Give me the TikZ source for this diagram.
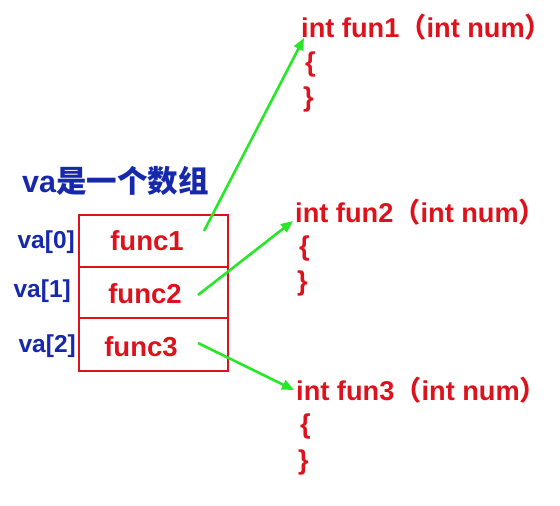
\documentclass[tikz,border=0pt]{standalone}
\usepackage{fontspec}
\setmainfont{Liberation Sans}
\newfontfamily\cjk{Noto Sans CJK SC}
\usetikzlibrary{arrows.meta}
\definecolor{fred}{RGB}{222,18,28}
\definecolor{fblue}{RGB}{22,40,172}
\definecolor{fgreen}{RGB}{40,230,40}
\newcommand{\lpar}{{\cjk （}}
\newcommand{\rpar}{{\cjk ）}}
\tikzset{
  cell/.style={draw=fred, line width=2pt, minimum width=149pt, inner sep=0pt},
  celltxt/.style={text=fred, font=\fontsize{27.5}{30}\selectfont\bfseries, inner sep=0pt},
  idx/.style={text=fblue, font=\fontsize{24.5}{26}\selectfont\bfseries, inner sep=0pt},
  code/.style={text=fred, font=\fontsize{27.2}{30}\selectfont\bfseries, inner sep=0pt, anchor=west},
  link/.style={draw=fgreen, line width=2.6pt, -{Triangle[length=12pt,width=10pt]}}
}
\begin{document}
\begin{tikzpicture}[x=1pt,y=-1pt]
\useasboundingbox[fill=white] (0,0) rectangle (560,506);
% array cells
\node[cell, minimum height=52pt, anchor=north west] (c0) at (78,214) {};
\node[cell, minimum height=51pt, anchor=north west] (c1) at (78,266) {};
\node[cell, minimum height=53pt, anchor=north west] (c2) at (78,317) {};
\node[celltxt] (t0) at (147,241) {func1};
\node[celltxt] (t1) at (145,294) {func2};
\node[celltxt] (t2) at (141,347) {func3};
% indices
\node[idx, anchor=east] (i0) at (75,242) {va[0]};
\node[idx, anchor=east] (i1) at (71,291) {va[1]};
\node[idx, anchor=east] (i2) at (76,346) {va[2]};
% title
\node[text=fblue, font=\fontsize{30.5}{33}\selectfont\bfseries, inner sep=0pt, anchor=west] (title) at (22,181) {va{\cjk 是一个数组}};
% functions
\node[code] (f1) at (301,27) {int fun1\lpar int num\rpar};
\node[code] (b1o) at (305,64) {\{};
\node[code] (b1c) at (303,99) {\}};
\node[code] (f2) at (295,212) {int fun2\lpar int num\rpar};
\node[code] (b2o) at (299,248) {\{};
\node[code] (b2c) at (297,283) {\}};
\node[code] (f3) at (296,390) {int fun3\lpar int num\rpar};
\node[code] (b3o) at (300,426) {\{};
\node[code] (b3c) at (298,462) {\}};
% arrows
\coordinate (s0) at (204,231);
\coordinate (s1) at (198,295);
\coordinate (s2) at (198,343);
\coordinate (e0) at (304,38);
\coordinate (e1) at (293,221);
\coordinate (e2) at (294,390);
\draw[link] (s0) -- (e0);
\draw[link] (s1) -- (e1);
\draw[link] (s2) -- (e2);
\end{tikzpicture}
\end{document}
